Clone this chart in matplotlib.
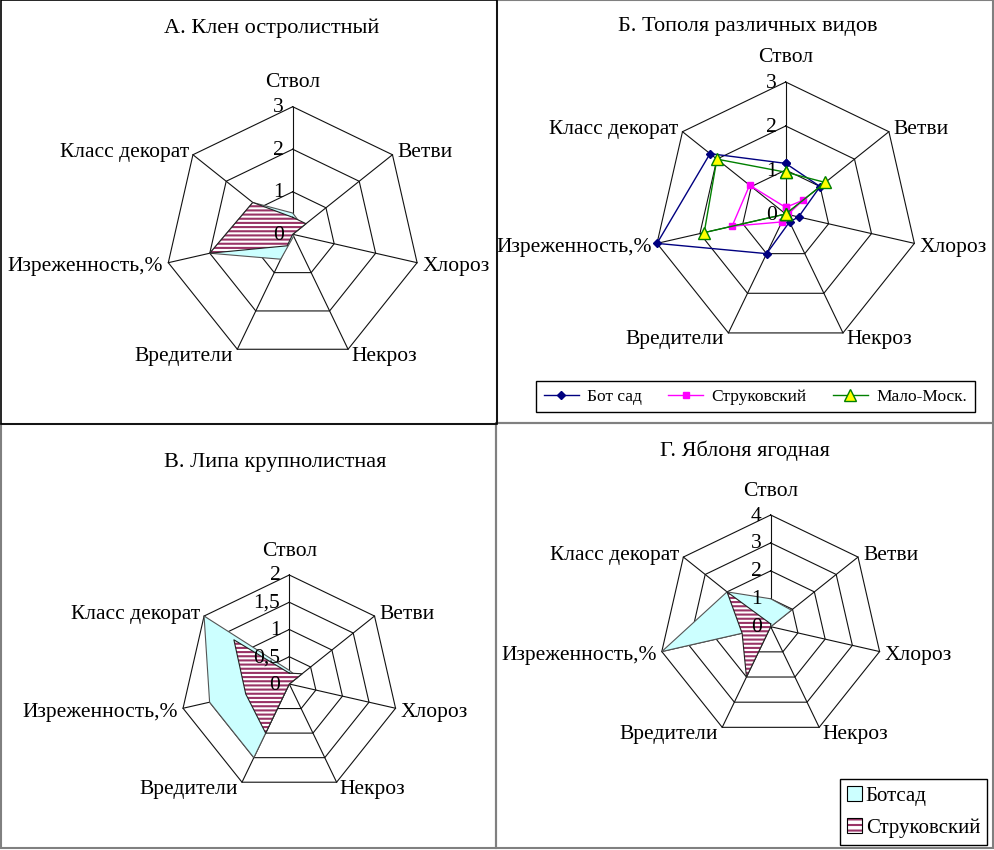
import numpy as np
import matplotlib.pyplot as plt
from matplotlib.patches import Patch, Rectangle
from matplotlib.lines import Line2D

plt.rcParams['font.family'] = ['Liberation Serif', 'DejaVu Serif']
plt.rcParams['hatch.linewidth'] = 1.5

categories = ['Ствол', 'Ветви', 'Хлороз', 'Некроз', 'Вредители',
              'Изреженность,%', 'Класс декорат']

# А. Клен остролистный
klen_botsad = [0.5, 0.3, 0.0, 0.05, 0.65, 2.0, 1.2]
klen_struk = [0.4, 0.4, 0.0, 0.0, 0.3, 2.0, 1.2]
klen_ticks = [0, 1, 2, 3]
klen_labels = ['0', '1', '2', '3']

# Б. Тополя различных видов
topol_bot = [1.15, 1.0, 0.3, 0.2, 1.0, 3.0, 2.2]
topol_struk = [0.15, 0.5, 0.05, 0.05, 0.2, 1.25, 1.05]
topol_malo = [0.95, 1.15, 0.0, 0.0, 0.0, 1.9, 2.0]
topol_ticks = [0, 1, 2, 3]
topol_labels = ['0', '1', '2', '3']

# В. Липа крупнолистная
lipa_botsad = [0.25, 0.2, 0.0, 0.0, 1.5, 1.5, 2.0]
lipa_struk = [0.2, 0.3, 0.0, 0.0, 1.0, 0.82, 1.3]
lipa_ticks = [0, 0.5, 1, 1.5, 2]
lipa_labels = ['0', '0,5', '1', '1,5', '2']

# Г. Яблоня ягодная
yablonya_botsad = [1.0, 0.95, 0.0, 0.0, 0.0, 4.0, 2.0]
yablonya_struk = [0.1, 0.0, 0.0, 0.0, 2.0, 1.05, 2.0]
yablonya_ticks = [0, 1, 2, 3, 4]
yablonya_labels = ['0', '1', '2', '3', '4']

W, H = 995, 850
fig = plt.figure(figsize=(W / 100, H / 100), dpi=100)

angles = np.arange(7) * 2 * np.pi / 7
closed = np.append(angles, angles[0])

# label offsets in pixels: (dx, dy, ha)
label_pos = [(0, 24, 'center'), (5, 2, 'left'), (5, -4, 'left'), (3, -7, 'left'),
             (-4, -7, 'right'), (-5, -4, 'right'), (-4, 2, 'right')]

HATCH_COL = '#993366'
CYAN = '#CCFFFF'
FS = 15.5
FS_TITLE = 16


def close(v):
    return list(v) + [v[0]]


def radar(cx, cy, rad, ticks, tick_labels):
    ax = fig.add_axes([(cx - rad) / W, (H - cy - rad) / H, 2 * rad / W, 2 * rad / H],
                      projection='polar')
    ax.set_theta_zero_location('N')
    ax.set_theta_direction(-1)
    rmax = ticks[-1]
    ax.set_ylim(0, rmax)
    ax.grid(False)
    ax.set_xticks([])
    ax.set_yticks([])
    ax.spines['polar'].set_visible(False)
    ax.patch.set_visible(False)
    for t in ticks[1:]:
        ax.plot(closed, [t] * 8, color='#111111', lw=0.8, zorder=1, clip_on=False)
    for a in angles:
        ax.plot([a, a], [0, rmax], color='#111111', lw=0.8, zorder=1, clip_on=False)
    for t, lab in zip(ticks, tick_labels):
        ax.annotate(lab, xy=(0, t), xytext=(-9, -1), textcoords='offset pixels',
                    ha='right', va='center', fontsize=FS, zorder=6)
    for a, cat, (dx, dy, ha) in zip(angles, categories, label_pos):
        ax.annotate(cat, xy=(a, rmax), xytext=(dx, dy), textcoords='offset pixels',
                    ha=ha, va='center', fontsize=FS, annotation_clip=False)
    return ax


def filled(ax, botsad, struk):
    ax.fill(closed, close(botsad), facecolor=CYAN, edgecolor='#555555', lw=0.8,
            zorder=3, clip_on=False)
    ax.fill(closed, close(struk), facecolor='white', edgecolor=HATCH_COL,
            hatch='----', lw=0, zorder=4, clip_on=False)
    ax.plot(closed, close(struk), color='#222222', lw=0.8, zorder=4, clip_on=False)


# panel frames
def frame(x0, y0, x1, y1, color, lw=1.2):
    fig.add_artist(Rectangle((x0 / W, 1 - y1 / H), (x1 - x0) / W, (y1 - y0) / H,
                             transform=fig.transFigure, fill=False,
                             edgecolor=color, lw=lw))


frame(497, 0.5, 993, 423, '#808080', 1.5)
frame(1, 424, 496, 848, '#808080', 1.5)
frame(496, 423, 993, 848, '#808080', 1.5)
frame(1, 0.5, 497, 424, 'black', 1.2)

# titles
fig.text(272 / W, 1 - 28 / H, 'А. Клен остролистный', ha='center', va='center', fontsize=FS_TITLE)
fig.text(748 / W, 1 - 27 / H, 'Б. Тополя различных видов', ha='center', va='center', fontsize=FS_TITLE)
fig.text(275 / W, 1 - 462 / H, 'В. Липа крупнолистная', ha='center', va='center', fontsize=FS_TITLE)
fig.text(745 / W, 1 - 451 / H, 'Г. Яблоня ягодная', ha='center', va='center', fontsize=FS_TITLE)

# А
ax = radar(292.7, 234.3, 127.6, klen_ticks, klen_labels)
filled(ax, klen_botsad, klen_struk)

# Б
ax = radar(785.7, 214, 132, topol_ticks, topol_labels)
ax.plot(closed, close(topol_bot), color='#000080', lw=1, marker='D', ms=4,
        zorder=4, clip_on=False)
ax.plot(closed, close(topol_struk), color='#FF00FF', lw=1, marker='s', ms=4,
        zorder=4, clip_on=False)
ax.plot(closed, close(topol_malo), color='#008000', lw=1, marker='^', ms=8,
        mfc='#FFFF00', mec='#008000', zorder=5, clip_on=False)
handles = [Line2D([], [], color='#000080', lw=1, marker='D', ms=4),
           Line2D([], [], color='#FF00FF', lw=1, marker='s', ms=4),
           Line2D([], [], color='#008000', lw=1, marker='^', ms=8,
                  mfc='#FFFF00', mec='#008000')]
fig.legend(handles, ['Бот сад', 'Струковский', 'Мало-Моск.'], loc='center',
           bbox_to_anchor=(755.5 / W, 1 - 396.5 / H), ncol=3, fontsize=12.5,
           fancybox=False, edgecolor='black', framealpha=1, columnspacing=1.5,
           handlelength=2.0, handletextpad=0.5, borderpad=0.45)

# В
ax = radar(289.3, 684, 109, lipa_ticks, lipa_labels)
filled(ax, lipa_botsad, lipa_struk)

# Г
ax = radar(770.7, 626.7, 111.7, yablonya_ticks, yablonya_labels)
filled(ax, yablonya_botsad, yablonya_struk)
h_bot = Patch(facecolor=CYAN, edgecolor='black', lw=0.8)
h_struk = (Patch(facecolor='white', edgecolor=HATCH_COL, hatch='---', lw=0),
           Patch(facecolor='none', edgecolor='black', lw=0.8))
fig.legend([h_bot, h_struk], ['Ботсад', 'Струковский'], loc='center',
           bbox_to_anchor=(913.5 / W, 1 - 812 / H), fontsize=15,
           fancybox=False, edgecolor='black', framealpha=1, borderpad=0.35,
           handlelength=0.7, handleheight=0.7, handletextpad=0.2, labelspacing=0.6)

fig.savefig('out.png', dpi=100)
